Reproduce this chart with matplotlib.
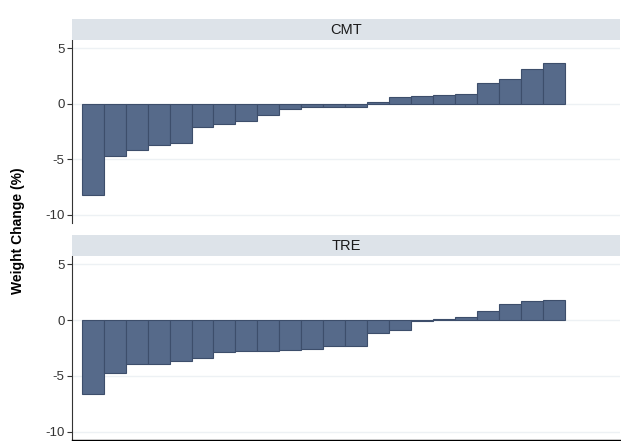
import matplotlib
matplotlib.use("Agg")
import matplotlib.pyplot as plt
import numpy as np

plt.rcParams["font.family"] = ["Liberation Sans", "DejaVu Sans"]

# weight change per participant, sorted
CMT = [-8.18, -4.66, -4.12, -3.73, -3.52, -2.12, -1.82, -1.58, -1.04, -0.42,
       -0.24, -0.24, -0.27, 0.18, 0.60, 0.69, 0.78, 0.93, 1.91, 2.27, 3.10, 3.67]
TRE = [-6.63, -4.78, -3.97, -3.97, -3.70, -3.37, -2.84, -2.75, -2.75, -2.69,
       -2.60, -2.36, -2.33, -1.16, -0.93, -0.12, 0.09, 0.30, 0.78, 1.46, 1.70, 1.82]
PANELS = ["CMT", "TRE"]
YTICKS = [5, 0, -5, -10]

FILL = "#566a8a"
EDGE = "#3d4e6b"
STRIP = "#dde3e9"
GRID = "#edf1f4"

fig = plt.figure(figsize=(6.21, 4.41), dpi=100)

# [left, bottom, width, height] for each panel and its strip
boxes = [(0.9093, 0.4937), (0.4195, 0.0023)]
for name, vals, (top, bot) in zip(PANELS, [CMT, TRE], boxes):
    ax = fig.add_axes([0.1164, bot, 0.998 - 0.1164, top - bot])
    x = np.arange(len(vals))
    ax.bar(x, vals, width=1.0, color=FILL, edgecolor=EDGE, linewidth=0.8,
           zorder=3)
    ax.set_xlim(-0.93, 24.0)
    ax.set_ylim(-10.75, 5.75)
    ax.set_yticks(YTICKS)
    ax.set_yticklabels([str(t) for t in YTICKS])
    ax.set_xticks([])
    ax.grid(axis="y", color=GRID, lw=1.0, zorder=0)
    for s in ["top", "right"]:
        ax.spines[s].set_visible(False)
    ax.spines["bottom"].set_visible(name == "TRE")
    ax.spines["left"].set_color("#333333")
    ax.spines["left"].set_linewidth(0.8)
    ax.spines["bottom"].set_linewidth(1.0)
    ax.tick_params(axis="y", length=3.5, width=0.8, pad=2, labelsize=9.5,
                   labelcolor="#333333", color="#333333")

    sx = fig.add_axes([0.1164, top + 0.0005, 0.998 - 0.1164, 0.0462])
    sx.set_facecolor(STRIP)
    sx.set_xticks([])
    sx.set_yticks([])
    for s in sx.spines.values():
        s.set_visible(False)
    sx.text(0.5, 0.5, name, ha="center", va="center", fontsize=10.5,
            color="#1a1a1a", transform=sx.transAxes)

fig.text(0.029, 0.476, "Weight Change (%)", rotation=90, ha="center",
         va="center", fontsize=10, fontweight="bold")

fig.savefig("out.png", dpi=100, facecolor="white")
